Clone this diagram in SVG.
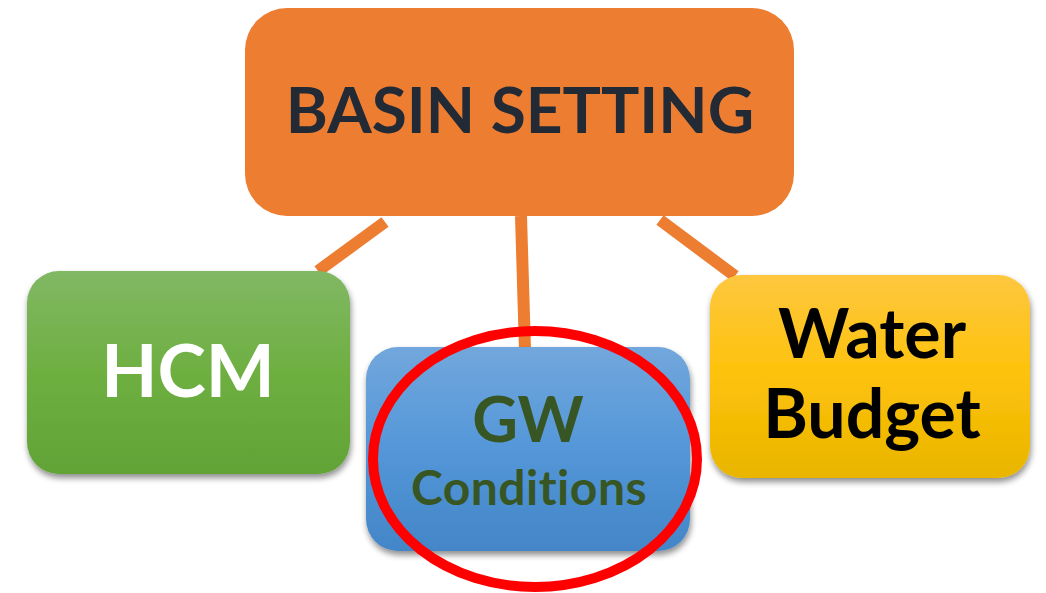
<svg xmlns="http://www.w3.org/2000/svg" width="1046" height="593" viewBox="0 0 1046 593">
  <defs>
    <linearGradient id="gGreen" x1="0" y1="0" x2="0" y2="1">
      <stop offset="0" stop-color="#81b864"/>
      <stop offset="0.5" stop-color="#6eaf41"/>
      <stop offset="1" stop-color="#62a336"/>
    </linearGradient>
    <linearGradient id="gBlue" x1="0" y1="0" x2="0" y2="1">
      <stop offset="0" stop-color="#72a7dc"/>
      <stop offset="0.5" stop-color="#5497d9"/>
      <stop offset="1" stop-color="#4386c8"/>
    </linearGradient>
    <linearGradient id="gYellow" x1="0" y1="0" x2="0" y2="1">
      <stop offset="0" stop-color="#fec73f"/>
      <stop offset="0.5" stop-color="#fdc20a"/>
      <stop offset="1" stop-color="#e9b500"/>
    </linearGradient>
    <filter id="shadow" x="-10%" y="-10%" width="125%" height="130%">
      <feGaussianBlur in="SourceAlpha" stdDeviation="3"/>
      <feOffset dx="1" dy="4" result="b"/>
      <feComponentTransfer><feFuncA type="linear" slope="0.45"/></feComponentTransfer>
      <feMerge><feMergeNode/><feMergeNode in="SourceGraphic"/></feMerge>
    </filter>
  </defs>
  <style>
    .lbl { font-family: Lato, "Open Sans", "Liberation Sans", sans-serif; font-weight: bold; text-anchor: middle; font-variant-ligatures: none; font-feature-settings: "liga" 0, "clig" 0, "dlig" 0; }
    .conn { stroke: #ed7d31; stroke-width: 12; fill: none; }
  </style>
  <rect width="1046" height="593" fill="#ffffff"/>

  <g id="connectors">
    <line class="conn" x1="385" y1="222" x2="318" y2="271"/>
    <line class="conn" x1="521" y1="216" x2="525" y2="350"/>
    <line class="conn" x1="660" y1="220" x2="735" y2="276"/>
  </g>

  <g id="basin-setting">
    <rect x="245" y="8" width="549" height="208" rx="42" fill="#ed7d31"/>
    <text class="lbl" x="520" y="133" font-size="64" fill="#222a35">BASIN SETTING</text>
  </g>

  <g id="hcm">
    <rect x="27" y="271" width="323" height="203" rx="32" fill="url(#gGreen)" filter="url(#shadow)"/>
    <text class="lbl" x="188" y="397" font-size="73" fill="#ffffff">HCM</text>
  </g>

  <g id="gw-conditions">
    <rect x="366" y="347" width="324" height="204" rx="32" fill="url(#gBlue)" filter="url(#shadow)"/>
    <text class="lbl" x="528" y="442" font-size="63" fill="#375623">GW</text>
    <text class="lbl" x="529" y="505" font-size="48" fill="#375623" letter-spacing="0.5">Conditions</text>
  </g>

  <g id="water-budget">
    <rect x="710" y="275" width="320" height="203" rx="32" fill="url(#gYellow)" filter="url(#shadow)"/>
    <text class="lbl" x="872" y="358" font-size="68" fill="#000000">Water</text>
    <text class="lbl" x="872" y="438" font-size="68" fill="#000000">Budget</text>
  </g>

  <g id="highlight">
    <ellipse cx="535" cy="459" rx="162" ry="128" fill="none" stroke="#ff0000" stroke-width="10"/>
  </g>
</svg>
